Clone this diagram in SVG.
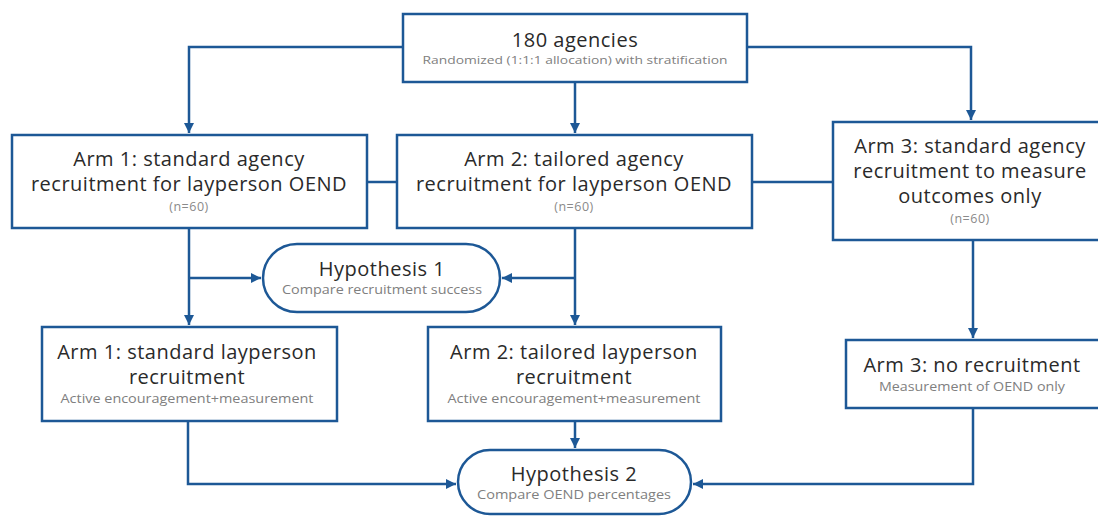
<svg xmlns="http://www.w3.org/2000/svg" width="1098" height="516" viewBox="0 0 1098 516">
<defs>
<marker id="ah" viewBox="0 0 10 10" refX="10" refY="5" markerWidth="10" markerHeight="10" markerUnits="userSpaceOnUse" orient="auto">
<path d="M0,0 L10,5 L0,10 Z" fill="#1d5896"/>
</marker>
<style>
.box{fill:#fff;stroke:#1d5896;stroke-width:2.5}
.ln{fill:none;stroke:#1d5896;stroke-width:2.5}
.arr{fill:none;stroke:#1d5896;stroke-width:2.5;marker-end:url(#ah)}
.t{font-family:"Open Sans","Liberation Sans",sans-serif;font-size:20px;letter-spacing:0.5px;fill:#2a2a2a;text-anchor:middle}
.s{font-family:"Open Sans","Liberation Sans",sans-serif;font-size:12.5px;fill:#808080;text-anchor:middle}
.n{font-family:"Open Sans","Liberation Sans",sans-serif;font-size:12.5px;letter-spacing:0.5px;fill:#8a8a8a;text-anchor:middle}
</style>
</defs>
<rect width="1098" height="516" fill="#fff"/>
<g id="connectors">
<path class="arr" d="M403,47 H189 V133"/>
<path class="arr" d="M747,47 H971 V120"/>
<path class="arr" d="M575,82 V133"/>
<path class="ln" d="M367,182 H397"/>
<path class="ln" d="M752,182 H833"/>
<path class="arr" d="M189,228 V325"/>
<path class="arr" d="M575,228 V325"/>
<path class="arr" d="M189,278 H261"/>
<path class="arr" d="M575,278 H502"/>
<path class="arr" d="M973,240 V338"/>
<path class="arr" d="M188,421 V484 H456"/>
<path class="arr" d="M575,421 V448"/>
<path class="arr" d="M973,408 V484 H693"/>
</g>
<g id="n-top">
<rect class="box" x="403" y="14" width="344" height="68"/>
<text class="t" x="575" y="47">180 agencies</text>
<text class="s" x="575" y="64" style="font-size:11.5px" textLength="305" lengthAdjust="spacingAndGlyphs">Randomized (1:1:1 allocation) with stratification</text>
</g>
<g id="n-arm1">
<rect class="box" x="12" y="135" width="355" height="93"/>
<text class="t" x="189" y="166">Arm 1: standard agency</text>
<text class="t" x="189" y="191">recruitment for layperson OEND</text>
<text class="n" x="189" y="211">(n=60)</text>
</g>
<g id="n-arm2">
<rect class="box" x="397" y="135" width="355" height="93"/>
<text class="t" x="574" y="166">Arm 2: tailored agency</text>
<text class="t" x="574" y="191">recruitment for layperson OEND</text>
<text class="n" x="574" y="211">(n=60)</text>
</g>
<g id="n-arm3">
<rect class="box" x="833" y="122" width="275" height="118"/>
<text class="t" x="970" y="153">Arm 3: standard agency</text>
<text class="t" x="970" y="178">recruitment to measure</text>
<text class="t" x="970" y="203">outcomes only</text>
<text class="n" x="970" y="223">(n=60)</text>
</g>
<g id="n-hyp1">
<rect class="box" x="263" y="244" width="237" height="68" rx="34" ry="34"/>
<text class="t" x="382" y="276">Hypothesis 1</text>
<text class="s" x="382" y="294" textLength="200" lengthAdjust="spacingAndGlyphs">Compare recruitment success</text>
</g>
<g id="n-arm1b">
<rect class="box" x="42" y="327" width="295" height="94"/>
<text class="t" x="187" y="359">Arm 1: standard layperson</text>
<text class="t" x="187" y="384">recruitment</text>
<text class="s" x="187" y="403" textLength="253" lengthAdjust="spacingAndGlyphs">Active encouragement+measurement</text>
</g>
<g id="n-arm2b">
<rect class="box" x="428" y="327" width="293" height="94"/>
<text class="t" x="574" y="359">Arm 2: tailored layperson</text>
<text class="t" x="574" y="384">recruitment</text>
<text class="s" x="574" y="403" textLength="253" lengthAdjust="spacingAndGlyphs">Active encouragement+measurement</text>
</g>
<g id="n-arm3b">
<rect class="box" x="846" y="340" width="262" height="68"/>
<text class="t" x="972" y="372">Arm 3: no recruitment</text>
<text class="s" x="972" y="391" textLength="186" lengthAdjust="spacingAndGlyphs">Measurement of OEND only</text>
</g>
<g id="n-hyp2">
<rect class="box" x="458" y="450" width="233" height="64" rx="32" ry="32"/>
<text class="t" x="574" y="481">Hypothesis 2</text>
<text class="s" x="574" y="499" textLength="194" lengthAdjust="spacingAndGlyphs">Compare OEND percentages</text>
</g>
</svg>
